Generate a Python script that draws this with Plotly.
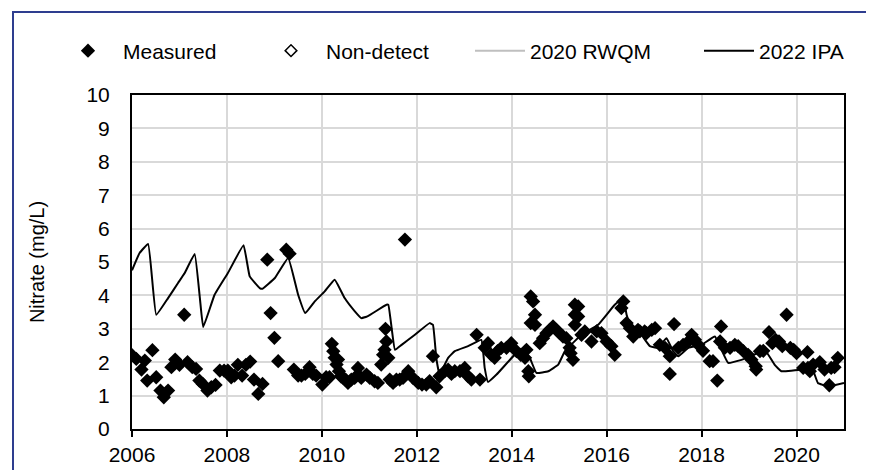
import plotly.graph_objects as go

# ---- data ----
measured_year = [
    2006.00, 2006.09, 2006.20, 2006.27, 2006.32, 2006.43, 2006.51, 2006.60, 2006.67, 2006.76,
    2006.83, 2006.91, 2007.00, 2007.10, 2007.17, 2007.27, 2007.35, 2007.42, 2007.49, 2007.59,
    2007.67, 2007.76, 2007.85, 2007.94, 2008.02, 2008.09, 2008.16, 2008.23, 2008.32, 2008.40,
    2008.49, 2008.57, 2008.66, 2008.75, 2008.85, 2008.92, 2009.00, 2009.08, 2009.25, 2009.32,
    2009.41, 2009.50, 2009.57, 2009.65, 2009.74, 2009.81, 2009.88, 2010.01, 2010.09, 2010.16,
    2010.21, 2010.24, 2010.27, 2010.31, 2010.34, 2010.36, 2010.40, 2010.45, 2010.50, 2010.55,
    2010.62, 2010.69, 2010.76, 2010.83, 2010.94, 2011.01, 2011.11, 2011.18, 2011.25, 2011.29,
    2011.32, 2011.34, 2011.36, 2011.40, 2011.43, 2011.50, 2011.57, 2011.64, 2011.71, 2011.75,
    2011.82, 2011.92, 2012.03, 2012.11, 2012.20, 2012.27, 2012.34, 2012.41, 2012.48, 2012.59,
    2012.66, 2012.73, 2012.80, 2012.91, 2013.01, 2013.08, 2013.15, 2013.26, 2013.33, 2013.43,
    2013.50, 2013.57, 2013.64, 2013.70, 2013.78, 2013.89, 2013.99, 2014.10, 2014.19, 2014.28,
    2014.31, 2014.35, 2014.36, 2014.40, 2014.45, 2014.49, 2014.40, 2014.49, 2014.59, 2014.66,
    2014.73, 2014.80, 2014.87, 2014.94, 2015.01, 2015.08, 2015.15, 2015.22, 2015.24, 2015.29,
    2015.33, 2015.40, 2015.33, 2015.40, 2015.33, 2015.47, 2015.54, 2015.68, 2015.79, 2015.89,
    2016.00, 2016.10, 2016.17, 2016.31, 2016.35, 2016.42, 2016.49, 2016.56, 2016.66, 2016.70,
    2016.80, 2016.84, 2016.95, 2017.02, 2017.12, 2017.23, 2017.33, 2017.33, 2017.42, 2017.51,
    2017.61, 2017.72, 2017.79, 2017.86, 2017.93, 2018.03, 2018.17, 2018.24, 2018.33, 2018.39,
    2018.41, 2018.49, 2018.60, 2018.70, 2018.77, 2018.88, 2018.98, 2019.05, 2019.14, 2019.15,
    2019.23, 2019.30, 2019.42, 2019.49, 2019.56, 2019.63, 2019.70, 2019.79, 2019.87, 2019.94,
    2020.00, 2020.14, 2020.23, 2020.24, 2020.28, 2020.35, 2020.49, 2020.59, 2020.69, 2020.73,
    2020.80, 2020.87,
]
measured_value = [
    2.21, 2.10, 1.78, 2.05, 1.45, 2.36, 1.55, 1.15, 0.95, 1.15,
    1.85, 2.08, 1.92, 3.42, 2.00, 1.85, 1.80, 1.45, 1.35, 1.15,
    1.25, 1.32, 1.75, 1.75, 1.75, 1.55, 1.60, 1.92, 1.60, 1.92,
    2.02, 1.48, 1.05, 1.35, 5.07, 3.47, 2.73, 2.03, 5.37, 5.25,
    1.78, 1.60, 1.60, 1.65, 1.85, 1.65, 1.60, 1.33, 1.55, 1.55,
    2.55, 2.33, 2.13, 1.93, 2.08, 1.73, 1.58, 1.53, 1.48, 1.38,
    1.48, 1.53, 1.83, 1.53, 1.63, 1.53, 1.43, 1.38, 1.93, 2.22,
    2.37, 3.00, 2.62, 2.13, 1.48, 1.38, 1.48, 1.48, 1.53, 5.67,
    1.73, 1.53, 1.38, 1.33, 1.33, 1.43, 2.18, 1.25, 1.58, 1.73,
    1.78, 1.65, 1.73, 1.73, 1.83, 1.58, 1.48, 2.82, 1.48, 2.43,
    2.57, 2.22, 2.13, 2.33, 2.43, 2.43, 2.57, 2.33, 2.22, 2.13,
    2.37, 1.73, 1.58, 3.97, 3.82, 3.42, 3.17, 3.12, 2.57, 2.72,
    2.87, 2.97, 3.07, 2.97, 2.87, 2.77, 2.72, 2.43, 2.27, 2.07,
    3.72, 3.67, 3.42, 3.37, 3.12, 2.82, 2.92, 2.62, 2.92, 2.87,
    2.62, 2.48, 2.22, 3.62, 3.82, 3.17, 3.02, 2.77, 2.97, 2.92,
    2.92, 2.87, 2.97, 3.02, 2.52, 2.43, 2.18, 1.65, 3.14, 2.43,
    2.52, 2.62, 2.82, 2.67, 2.52, 2.34, 2.03, 2.03, 1.45, 2.62,
    3.07, 2.43, 2.43, 2.52, 2.48, 2.33, 2.22, 2.07, 1.88, 1.78,
    2.33, 2.34, 2.90, 2.57, 2.67, 2.62, 2.48, 3.42, 2.43, 2.37,
    2.27, 1.83, 2.30, 1.83, 1.73, 1.93, 2.00, 1.78, 1.31, 1.83,
    1.85, 2.13,
]

# no non-detect results and no RWQM curve are visible in the plotted period
nondetect_year = [None]
nondetect_value = [None]

rwqm_year = [None]
rwqm_value = [None]

ipa_year = [
    2006.00, 2006.16, 2006.34, 2006.51, 2006.76, 2006.97, 2007.11, 2007.32, 2007.43, 2007.50,
    2007.74, 2008.02, 2008.35, 2008.48, 2008.69, 2008.75, 2009.01, 2009.29, 2009.50, 2009.65,
    2009.85, 2010.06, 2010.27, 2010.48, 2010.69, 2010.83, 2010.97, 2011.36, 2011.40, 2011.47,
    2011.54, 2011.68, 2011.96, 2012.27, 2012.34, 2012.41, 2012.48, 2012.66, 2012.80, 2013.08,
    2013.36, 2013.43, 2013.50, 2013.68, 2014.06, 2014.24, 2014.38, 2014.52, 2014.77, 2014.98,
    2015.12, 2015.47, 2015.82, 2016.17, 2016.35, 2016.42, 2016.52, 2016.73, 2016.91, 2017.08,
    2017.26, 2017.40, 2017.51, 2017.72, 2018.00, 2018.28, 2018.42, 2018.56, 2018.84, 2019.05,
    2019.33, 2019.54, 2019.68, 2020.10, 2020.31, 2020.45, 2020.66, 2021.00,
]
ipa_value = [
    4.75, 5.27, 5.54, 3.42, 3.92, 4.37, 4.67, 5.24, 3.92, 3.05,
    4.02, 4.67, 5.50, 4.57, 4.22, 4.20, 4.52, 5.12, 4.02, 3.47,
    3.82, 4.12, 4.47, 3.92, 3.53, 3.32, 3.38, 3.72, 3.72, 3.02,
    2.37, 2.52, 2.82, 3.17, 3.12, 2.13, 1.63, 2.13, 2.33, 2.48,
    2.67, 1.83, 1.41, 1.63, 2.22, 2.37, 2.13, 1.68, 1.73, 1.93,
    2.33, 2.82, 3.12, 3.72, 3.92, 3.42, 3.02, 2.82, 2.48, 2.43,
    2.72, 2.33, 2.18, 2.43, 2.52, 2.77, 2.37, 1.98, 2.07, 2.18,
    2.37, 1.92, 1.73, 1.78, 1.88, 1.38, 1.28, 1.38,
]

x_ticks = [2006, 2008, 2010, 2012, 2014, 2016, 2018, 2020]
y_ticks = list(range(0, 11))

FONT = "Arial, 'Liberation Sans', sans-serif"

# plot-area geometry (pixels) used to place legends / frame
PL, PR, PT, PB = 124, 836, 87, 421
W, H = 874, 470


def px_to_xp(px):
    return (px - PL) / (PR - PL)


def py_to_yp(py):
    return (PB - py) / (PB - PT)


fig = go.Figure()

fig.add_trace(go.Scatter(
    x=ipa_year, y=ipa_value, mode="lines", name="2022 IPA",
    line=dict(color="black", width=2, shape="spline", smoothing=0.3),
    legend="legend4", showlegend=True,
))
fig.add_trace(go.Scatter(
    x=rwqm_year, y=rwqm_value, mode="lines", name="2020 RWQM",
    line=dict(color="#bfbfbf", width=2),
    legend="legend3", showlegend=True,
))
fig.add_trace(go.Scatter(
    x=measured_year, y=measured_value, mode="markers", name="Measured",
    marker=dict(symbol="diamond", size=11, color="black", line=dict(width=0)),
    legend="legend", showlegend=True,
))
fig.add_trace(go.Scatter(
    x=nondetect_year, y=nondetect_value, mode="markers", name="Non-detect",
    marker=dict(symbol="diamond-open", size=9, color="black", line=dict(width=1.5, color="black")),
    legend="legend2", showlegend=True,
))

leg_y = py_to_yp(43)
leg_common = dict(orientation="h", yanchor="middle", y=leg_y, xanchor="left",
                  font=dict(family=FONT, size=21, color="black"),
                  bgcolor="rgba(0,0,0,0)", borderwidth=0, tracegroupgap=0)

fig.update_layout(
    width=W, height=H,
    showlegend=True,
    margin=dict(l=PL, r=W - PR, t=PT, b=H - PB, pad=0),
    paper_bgcolor="white", plot_bgcolor="white",
    font=dict(family=FONT, size=21, color="black"),
    legend=dict(x=px_to_xp(45), itemwidth=60, **leg_common),
    legend2=dict(x=px_to_xp(248), itemwidth=60, **leg_common),
    legend3=dict(x=px_to_xp(462), itemwidth=50, **leg_common),
    legend4=dict(x=px_to_xp(691), itemwidth=50, **leg_common),
    xaxis=dict(
        range=[2006, 2021], tickvals=x_ticks, ticktext=[str(v) for v in x_ticks],
        showgrid=True, gridcolor="#d9d9d9", gridwidth=1.5,
        showline=True, linecolor="black", linewidth=2, mirror=True,
        ticks="outside", ticklen=6, tickwidth=2, tickcolor="black",
        zeroline=False, tickfont=dict(size=21),
    ),
    yaxis=dict(
        range=[0, 10], tickvals=y_ticks,
        showgrid=True, gridcolor="#d9d9d9", gridwidth=1.5,
        showline=True, linecolor="black", linewidth=2, mirror=True,
        ticks="", ticklabelstandoff=16,
        zeroline=False, tickfont=dict(size=21),
        title=dict(text="Nitrate (mg/L)", font=dict(size=20), standoff=36),
    ),
    shapes=[dict(
        type="rect", xref="paper", yref="paper",
        x0=px_to_xp(5), x1=px_to_xp(W + 20), y0=py_to_yp(H + 20), y1=py_to_yp(4),
        line=dict(color="#2e3d8f", width=2), fillcolor="rgba(0,0,0,0)", layer="above",
    )],
)

fig.write_html("out.html")
